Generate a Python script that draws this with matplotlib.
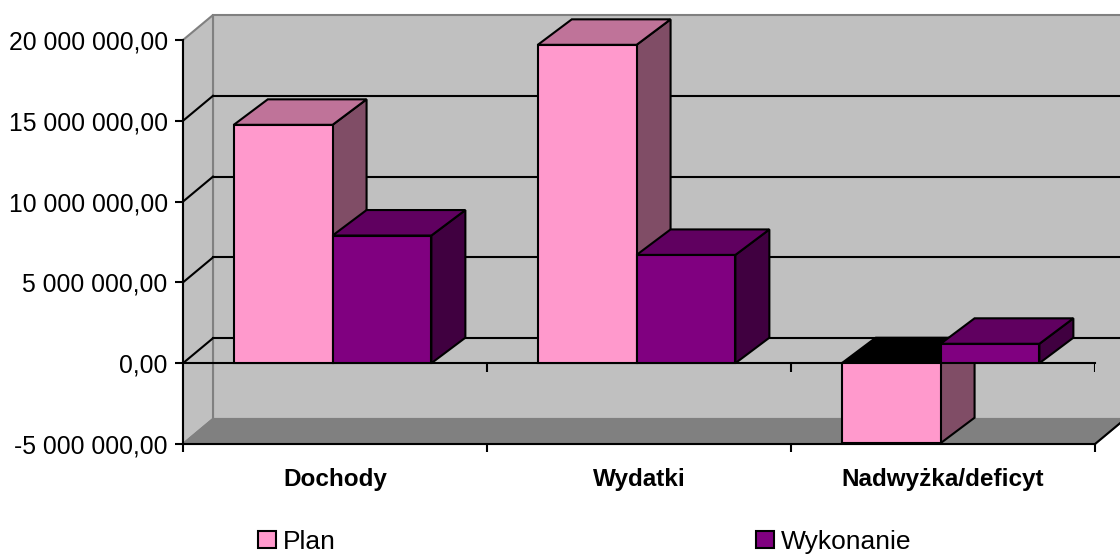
import numpy as np
import matplotlib.pyplot as plt
from matplotlib.patches import Polygon, Patch
from matplotlib.ticker import FuncFormatter, FixedLocator

plt.rcParams['font.family'] = ['Liberation Sans', 'DejaVu Sans']

# dane
categories = ["Dochody", "Wydatki", "Nadwyżka/deficyt"]
series_names = ["Plan", "Wykonanie"]
plan = [14.75e6, 19.7e6, -4.95e6]
wykonanie = [7.9e6, 6.7e6, 1.2e6]
yticks = [-5e6, 0, 5e6, 10e6, 15e6, 20e6]

ymin, ymax = yticks[0], yticks[-1]
ncat = len(categories)

# kolory (przod, gora, bok)
cols = {
    "Plan": ("#FF99CC", "#BF7399", "#804D66"),
    "Wykonanie": ("#800080", "#600060", "#400040"),
}
wall = "#C0C0C0"
wall_edge = "#808080"
floor = "#808080"

W, H = 1120, 554
fig = plt.figure(figsize=(W / 100, H / 100), dpi=100)
ax = fig.add_axes([183 / W, 110 / H, 912 / W, 404 / H])
ax.set_xlim(0, ncat)
ax.set_ylim(ymin, ymax)
ax.patch.set_visible(False)

# przeliczenie pikseli na jednostki danych (glebia 3D)
px_x = ncat / 912
px_y = (ymax - ymin) / 404
DX, DY = 30 * px_x, 25 * px_y
DXb, DYb = 34 * px_x, 25.5 * px_y

# sciana tylna
ax.add_patch(Polygon([(DX, ymin + DY), (ncat + DX, ymin + DY), (ncat + DX, ymax + DY), (DX, ymax + DY)],
                     closed=True, fc=wall, ec=wall_edge, lw=1.5, zorder=0, clip_on=False))
# sciana boczna
ax.add_patch(Polygon([(0, ymin), (DX, ymin + DY), (DX, ymax + DY), (0, ymax)],
                     closed=True, fc=wall, ec=wall_edge, lw=1.5, zorder=0.5, clip_on=False))
# podloga
ax.add_patch(Polygon([(0, ymin), (ncat, ymin), (ncat + DX, ymin + DY), (DX, ymin + DY)],
                     closed=True, fc=floor, ec=wall_edge, lw=1.5, zorder=0.6, clip_on=False))
ax.plot([ncat, ncat + DX], [ymin, ymin + DY], color="black", lw=1.5, zorder=0.7, clip_on=False)

# linie siatki
for v in yticks[1:-1]:
    ax.plot([DX, ncat + DX], [v + DY, v + DY], color="black", lw=1.5, zorder=1, clip_on=False)
    ax.plot([0, DX], [v, v + DY], color="black", lw=1.5, zorder=1, clip_on=False)

# linia zera z tickami
ax.plot([0, ncat], [0, 0], color="black", lw=1.5, zorder=2, clip_on=False)
ax.vlines(np.arange(1, ncat + 1), -9 * px_y, 0, color="black", lw=1.5, zorder=2)

# slupki
bw = 0.325
z = 3
for i in range(ncat):
    x0 = i + 0.167
    for name, vals in zip(series_names, [plan, wykonanie]):
        v = vals[i]
        fc, tc, sc = cols[name]
        lo, hi = min(0, v), max(0, v)
        lw = 1.5
        ax.add_patch(Polygon([(x0 + bw, lo), (x0 + bw + DXb, lo + DYb), (x0 + bw + DXb, hi + DYb), (x0 + bw, hi)],
                             closed=True, fc=sc, ec="black", lw=lw, zorder=z, joinstyle="miter", clip_on=False))
        top_c = tc if v >= 0 else "black"
        ax.add_patch(Polygon([(x0, hi), (x0 + bw, hi), (x0 + bw + DXb, hi + DYb), (x0 + DXb, hi + DYb)],
                             closed=True, fc=top_c, ec="black", lw=lw, zorder=z + 0.1, joinstyle="miter",
                             clip_on=False))
        ax.add_patch(Polygon([(x0, lo), (x0 + bw, lo), (x0 + bw, hi), (x0, hi)],
                             closed=True, fc=fc, ec="black", lw=lw, zorder=z + 0.2, joinstyle="miter",
                             clip_on=False))
        x0 += bw
        z += 1

# osie
for s in ["top", "right"]:
    ax.spines[s].set_visible(False)
for s in ["left", "bottom"]:
    ax.spines[s].set_linewidth(1.5)
    ax.spines[s].set_zorder(2.5)

ax.yaxis.set_major_locator(FixedLocator(yticks))
ax.yaxis.set_major_formatter(FuncFormatter(
    lambda v, p: f"{v:,.2f}".replace(",", " ").replace(".", ",")))
ax.tick_params(axis="y", length=6, width=1.5, pad=5, labelsize=17.8)

ax.set_xticks(np.arange(0, ncat + 1))
ax.set_xticklabels([])
ax.set_xticks(np.arange(ncat) + 0.5, minor=True)
ax.set_xticklabels(categories, minor=True, fontweight="bold", fontsize=17.5)
ax.tick_params(axis="x", which="major", length=6, width=1.5)
ax.tick_params(axis="x", which="minor", length=0, pad=17)

handles = [Patch(fc=cols[n][0], ec="black", lw=1.5) for n in series_names]
fig.legend(handles, series_names, loc="center left", bbox_to_anchor=(258 / W, 1 - 542 / H),
           ncol=2, frameon=False, fontsize=19, borderpad=0, borderaxespad=0,
           handlelength=0.7, handleheight=0.62, handletextpad=0.25, columnspacing=15.9)

fig.savefig("out.png", dpi=100)
